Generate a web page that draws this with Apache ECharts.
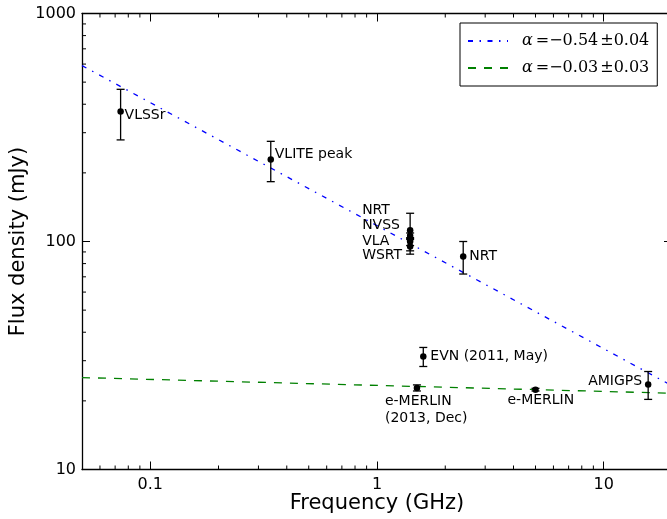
<!DOCTYPE html>
<html>
<head>
<meta charset="utf-8">
<script src="https://cdn.jsdelivr.net/npm/echarts@6/dist/echarts.min.js"></script>
<style>
html,body{margin:0;padding:0;background:#fff;}
#chart{width:667px;height:519px;}
</style>
</head>
<body>
<div id="chart"></div>
<script>
// ---- data ----
const freqs   = [0.074, 0.34, 1.4, 1.4, 1.4, 1.4, 2.4, 1.6, 1.5, 5.0, 15.7];
const flux    = [372, 229, 112, 106, 100, 95, 86, 31.3, 22.8, 22.4, 23.6];
const fluxErr = [93, 46, 21, 3, 4, 7, 14, 3, 0.7, 0.3, 3.3];
const names   = ['VLSSr', 'VLITE peak', 'NRT', 'NVSS', 'VLA', 'WSRT', 'NRT',
                 'EVN (2011, May)', 'e-MERLIN\n(2013, Dec)', 'e-MERLIN', 'AMIGPS'];

const fitFreq  = [0.05, 20];
const fitSteep = [591, 23.3];
const fitFlat  = [25.3, 21.6];
const fitNames = ['α = −0.54 ± 0.04', 'α = −0.03 ± 0.03'];

const xRange = [0.05, 20];
const yRange = [10, 1000];
const xMinorTicks = [0.06,0.07,0.08,0.09,0.2,0.3,0.4,0.5,0.6,0.7,0.8,0.9,2,3,4,5,6,7,8,9];
const yMinorTicks = [20,30,40,50,60,70,80,90,200,300,400,500,600,700,800,900];

// ---- label placement styles (pixel offsets from each point) ----
const labelLayout = [
  {dx: 4,   dy: 4,    align: 'left'},
  {dx: 4,   dy: -5,   align: 'left'},
  {dx: -48, dy: -20,  align: 'left'},
  {dx: -48, dy: -10,  align: 'left'},
  {dx: -48, dy: 0,    align: 'left'},
  {dx: -48, dy: 9,    align: 'left'},
  {dx: 6,   dy: 0,    align: 'left'},
  {dx: 7,   dy: 0,    align: 'left'},
  {dx: -32, dy: 21.5, align: 'left'},
  {dx: -28, dy: 11,   align: 'left'},
  {dx: -6,  dy: -3,   align: 'right'}
];

const FONT = 'DejaVu Sans';
const MATH = 'DejaVu Serif';
const chart = echarts.init(document.getElementById('chart'), null, {renderer: 'canvas'});

function powLabel(v) {
  const l = Math.log10(v);
  if (Math.abs(l - Math.round(l)) > 1e-6) return '';
  return String(+v.toPrecision(6));
}

function mathLegend(n) {
  const t = n.split(' ');
  return '{a|' + t[0] + '}{o|' + t[1] + '}{n|' + t[2] + '}{p|' + t[3] + '}{n|' + t[4] + '}';
}

const axisCommon = {
  type: 'log',
  logBase: 10,
  splitLine: {show: false},
  axisLine: {show: true, lineStyle: {color: '#000', width: 1.3}},
  axisTick: {show: true, inside: true, length: 8, lineStyle: {color: '#000', width: 1}},
  minorTick: {show: false}
};

const pointData = freqs.map((f, i) => ({
  value: [f, flux[i]],
  label: {
    show: true,
    formatter: names[i],
    position: 'inside',
    align: labelLayout[i].align,
    verticalAlign: 'middle',
    offset: [labelLayout[i].dx, labelLayout[i].dy],
    fontFamily: FONT,
    fontSize: 14,
    lineHeight: 17,
    color: '#000',
    opacity: 1
  }
}));

const errData = freqs.map((f, i) => [f, flux[i], fluxErr[i]]);

const mathBase = {fontFamily: MATH, fontSize: 16, color: '#000'};

const option = {
  animation: false,
  backgroundColor: '#fff',
  grid: {left: 82, top: 13.5, right: -5, bottom: 49.5, containLabel: false, outerBoundsMode: 'none'},
  legend: {
    data: fitNames,
    orient: 'vertical',
    left: 460,
    top: 23,
    padding: [10, 8, 10, 7],
    itemGap: 11,
    itemWidth: 40,
    itemHeight: 14,
    borderColor: '#000',
    borderWidth: 1,
    borderRadius: 0,
    backgroundColor: '#fff',
    itemStyle: {opacity: 0},
    formatter: mathLegend,
    textStyle: {
      fontFamily: MATH, fontSize: 16, color: '#000',
      rich: {
        a: Object.assign({}, mathBase, {fontStyle: 'italic', padding: [0, 3, 0, 9]}),
        o: Object.assign({}, mathBase, {padding: [0, 0, 0, 0]}),
        n: Object.assign({}, mathBase),
        p: Object.assign({}, mathBase, {padding: [0, 0, 0, 2]})
      }
    }
  },
  xAxis: [
    Object.assign({}, axisCommon, {
      position: 'bottom', min: xRange[0], max: xRange[1],
      axisLabel: {formatter: powLabel, fontFamily: FONT, fontSize: 16, color: '#000', margin: 7},
      name: 'Frequency (GHz)', nameLocation: 'middle', nameGap: 24, nameMoveOverlap: false,
      nameTextStyle: {fontFamily: FONT, fontSize: 21, color: '#000'}
    }),
    Object.assign({}, axisCommon, {
      position: 'top', min: xRange[0], max: xRange[1],
      axisLabel: {show: false}
    })
  ],
  yAxis: [
    Object.assign({}, axisCommon, {
      position: 'left', min: yRange[0], max: yRange[1],
      axisLabel: {formatter: powLabel, fontFamily: FONT, fontSize: 16, color: '#000', margin: 6},
      name: 'Flux density (mJy)', nameLocation: 'middle', nameGap: 53, nameRotate: 90,
      nameMoveOverlap: false,
      nameTextStyle: {fontFamily: FONT, fontSize: 21, color: '#000'}
    }),
    Object.assign({}, axisCommon, {
      position: 'right', min: yRange[0], max: yRange[1],
      axisLabel: {show: false}
    })
  ],
  series: [
    {
      name: fitNames[0], type: 'line', symbol: 'none', silent: true,
      data: fitFreq.map((f, i) => [f, fitSteep[i]]),
      lineStyle: {color: '#0000ff', width: 1.3, type: [5, 6.5, 1.5, 6.5]},
      itemStyle: {color: '#0000ff'}, z: 3
    },
    {
      name: fitNames[1], type: 'line', symbol: 'none', silent: true,
      data: fitFreq.map((f, i) => [f, fitFlat[i]]),
      lineStyle: {color: '#008000', width: 1.3, type: [8, 8]},
      itemStyle: {color: '#008000'}, z: 3
    },
    {
      type: 'custom', silent: true, z: 4,
      data: errData,
      renderItem: (params, api) => {
        const x = api.value(0), y = api.value(1), e = api.value(2);
        const t = api.coord([x, y + e]);
        const b = api.coord([x, y - e]);
        const st = {stroke: '#000', lineWidth: 1.3};
        return {type: 'group', children: [
          {type: 'line', shape: {x1: t[0], y1: t[1], x2: b[0], y2: b[1]}, style: st},
          {type: 'line', shape: {x1: t[0] - 4, y1: t[1], x2: t[0] + 4, y2: t[1]}, style: st},
          {type: 'line', shape: {x1: b[0] - 4, y1: b[1], x2: b[0] + 4, y2: b[1]}, style: st}
        ]};
      }
    },
    {
      type: 'scatter', symbol: 'circle', symbolSize: 6.5, silent: true, z: 5,
      itemStyle: {color: '#000', opacity: 1},
      label: {color: '#000', opacity: 1},
      data: pointData
    },
    {
      type: 'custom', silent: true, clip: false, z: 6,
      data: xMinorTicks.map(v => [v, yRange[0]]),
      renderItem: (params, api) => {
        const cs = params.coordSys;
        const p = api.coord([api.value(0), yRange[0]]);
        const st = {stroke: '#000', lineWidth: 1};
        return {type: 'group', children: [
          {type: 'line', shape: {x1: p[0], y1: cs.y + cs.height, x2: p[0], y2: cs.y + cs.height - 4}, style: st},
          {type: 'line', shape: {x1: p[0], y1: cs.y, x2: p[0], y2: cs.y + 4}, style: st}
        ]};
      }
    },
    {
      type: 'custom', silent: true, clip: false, z: 6,
      data: yMinorTicks.map(v => [xRange[0], v]),
      renderItem: (params, api) => {
        const cs = params.coordSys;
        const p = api.coord([xRange[0], api.value(1)]);
        const st = {stroke: '#000', lineWidth: 1};
        return {type: 'group', children: [
          {type: 'line', shape: {x1: cs.x, y1: p[1], x2: cs.x + 4, y2: p[1]}, style: st},
          {type: 'line', shape: {x1: cs.x + cs.width, y1: p[1], x2: cs.x + cs.width - 4, y2: p[1]}, style: st}
        ]};
      }
    }
  ]
};
chart.setOption(option);
</script>
</body>
</html>
